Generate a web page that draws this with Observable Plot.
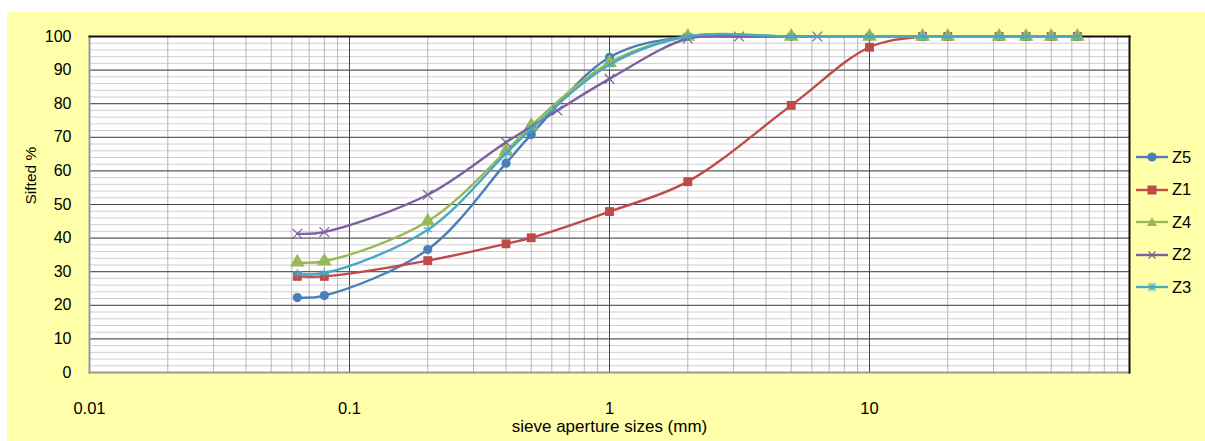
<!DOCTYPE html>
<html><head><meta charset="utf-8">
<script src="https://cdn.jsdelivr.net/npm/d3@7"></script>
<script src="https://cdn.jsdelivr.net/npm/@observablehq/plot@0.6"></script>
<style>
html,body{margin:0;padding:0;background:#fff;}
#wrap{position:relative;width:1205px;height:441px;overflow:hidden;font-family:"Liberation Sans",Arial,sans-serif;}
#bg{position:absolute;left:7px;top:12px;right:0;bottom:0;background:#FFFFAA;}
#chart{position:absolute;left:0;top:0;}
#legend{position:absolute;left:1136px;top:141px;}
.item{display:flex;align-items:center;height:32.5px;font-size:16.5px;color:#000;}
.item svg{margin-right:3px;}
</style></head><body>
<div id="wrap"><div id="bg"></div><div id="chart"></div><div id="legend"></div></div>
<script>
// ---- data ----
const sievesMain = [0.063, 0.08, 0.2, 0.4, 0.5, 1, 2, 5, 10, 16, 20, 31.5, 40, 50, 63];
const sievesZ2 = [0.063, 0.08, 0.2, 0.4, 0.63, 1, 2, 3.15, 6.3];
const z5 = [22.3, 22.9, 36.6, 62.3, 70.8, 93.8, 100, 100, 100, 100, 100, 100, 100, 100, 100];
const z1 = [28.6, 28.6, 33.3, 38.3, 40.1, 47.9, 56.8, 79.5, 96.8, 100, 100, 100, 100, 100, 100];
const z4 = [32.8, 33.1, 45.0, 65.9, 73.5, 92.2, 100, 100, 100, 100, 100, 100, 100, 100, 100];
const z2 = [41.3, 41.8, 52.9, 68.5, 78.0, 87.4, 99.4, 100, 100];
const z3 = [29.4, 29.6, 42.5, 65.2, 72.5, 91.6, 100, 100, 100, 100, 100, 100, 100, 100, 100];
const seriesNames = ["Z5", "Z1", "Z4", "Z2", "Z3"];
const xTickLabels = [0.01, 0.1, 1, 10];
const yTickLabels = [0, 10, 20, 30, 40, 50, 60, 70, 80, 90, 100];
const xTitle = "sieve aperture sizes (mm)";
const yTitle = "Sifted %";

// ---- styles ----
const colors = {Z5: "#4A7EBB", Z1: "#BE4B48", Z4: "#98B954", Z2: "#7D60A0", Z3: "#46AAC5"};
const symbols = {Z5: "circle", Z1: "square", Z4: "triangle", Z2: "times", Z3: "asterisk"};
const strokeSym = {times: true, asterisk: true};

const seriesData = {
  Z5: sievesMain.map((s, i) => ({s, v: z5[i]})),
  Z1: sievesMain.map((s, i) => ({s, v: z1[i]})),
  Z4: sievesMain.map((s, i) => ({s, v: z4[i]})),
  Z2: sievesZ2.map((s, i) => ({s, v: z2[i]})),
  Z3: sievesMain.map((s, i) => ({s, v: z3[i]}))
};

const yMinor = d3.range(0, 101, 2);
const xMinor = [];
for (const dec of [0.01, 0.1, 1, 10]) for (let k = 2; k <= 9; k++) xMinor.push(+(k * dec).toPrecision(3));
const xMajor = [0.1, 1, 10];

const seriesMarks = [];
for (const name of seriesNames) {
  const sym = symbols[name];
  seriesMarks.push(Plot.line(seriesData[name], {x: "s", y: "v", stroke: colors[name], strokeWidth: 2.4, curve: "catmull-rom"}));
  if (strokeSym[sym]) {
    seriesMarks.push(Plot.dot(seriesData[name], {x: "s", y: "v", symbol: sym, stroke: colors[name], strokeWidth: 1.2, r: 4.5}));
  } else {
    seriesMarks.push(Plot.dot(seriesData[name], {x: "s", y: "v", symbol: sym, fill: colors[name], stroke: "none", r: sym === "triangle" ? 5.5 : (sym === "square" ? 5 : 4.6)}));
  }
}

const chart = Plot.plot({
  width: 1205, height: 441,
  marginLeft: 89, marginRight: 76, marginTop: 36, marginBottom: 69,
  style: {background: "transparent", fontFamily: "'Liberation Sans', Arial, sans-serif", fontSize: "16px", color: "#000", overflow: "visible"},
  x: {type: "log", domain: [0.01, 100]},
  y: {domain: [0, 100]},
  marks: [
    Plot.frame({fill: "white", stroke: "none"}),
    Plot.ruleY(yMinor, {stroke: "#cfcfcf", strokeWidth: 1}),
    Plot.ruleX(xMinor, {stroke: "#b8b8b8", strokeWidth: 1}),
    Plot.ruleY(yTickLabels, {stroke: "#474747", strokeWidth: 1}),
    Plot.ruleX(xMajor, {stroke: "#474747", strokeWidth: 1}),
    Plot.frame({anchor: "left", stroke: "#9a9a9a", strokeWidth: 2}),
    Plot.frame({anchor: "bottom", stroke: "#9a9a9a", strokeWidth: 2}),
    Plot.frame({anchor: "top", stroke: "#111", strokeWidth: 2}),
    Plot.frame({anchor: "right", stroke: "#111", strokeWidth: 2}),
    Plot.axisY({ticks: yTickLabels, tickSize: 0, tickPadding: 18, label: null, fontSize: 16}),
    Plot.axisX({ticks: xTickLabels, tickSize: 0, tickPadding: 30, tickFormat: d => String(d), label: null, fontSize: 16.5}),
    Plot.text([xTitle], {frameAnchor: "bottom", dy: 59, fontSize: 17, fill: "#000"}),
    Plot.text([yTitle], {frameAnchor: "left", dx: -58, rotate: -90, fontSize: 15.5, fill: "#000"}),
    ...seriesMarks
  ]
});
document.getElementById("chart").appendChild(chart);

// ---- legend (HTML) ----
const legend = document.getElementById("legend");
for (const name of seriesNames) {
  const c = colors[name], sym = symbols[name];
  let marker = "";
  if (sym === "circle") marker = `<circle cx="16" cy="7" r="4.6" fill="${c}"/>`;
  else if (sym === "square") marker = `<rect x="11.5" y="2.5" width="9" height="9" fill="${c}"/>`;
  else if (sym === "triangle") marker = `<path d="M16,2 L21,11 L11,11 Z" fill="${c}"/>`;
  else if (sym === "times") marker = `<path d="M12.5,3.5 L19.5,10.5 M19.5,3.5 L12.5,10.5" stroke="${c}" stroke-width="1.2"/>`;
  else marker = `<path d="M12.5,3.5 L19.5,10.5 M19.5,3.5 L12.5,10.5 M16,2.5 L16,11.5" stroke="${c}" stroke-width="1.2"/>`;
  const div = document.createElement("div");
  div.className = "item";
  div.innerHTML = `<svg width="33" height="14"><line x1="0" y1="7" x2="32" y2="7" stroke="${c}" stroke-width="2.4"/>${marker}</svg><span>${name}</span>`;
  legend.appendChild(div);
}
</script>
</body></html>
